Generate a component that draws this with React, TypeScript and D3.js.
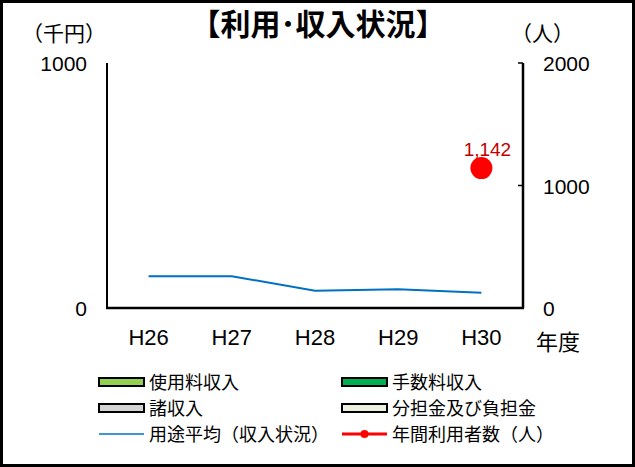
import React from "react";
import * as d3 from "d3";

const categories = ["H26", "H27", "H28", "H29", "H30"];
const averageIncome = [130, 130, 70, 77, 62]; // 用途平均（収入状況） 千円
const annualUsers: (number | null)[] = [null, null, null, null, 1142]; // 年間利用者数（人）
const leftTicks = [0, 1000];
const rightTicks = [0, 1000, 2000];

const legendItems = [
  { label: "使用料収入", type: "bar", color: "#92d050" },
  { label: "手数料収入", type: "bar", color: "#00b050" },
  { label: "諸収入", type: "bar", color: "#d4d4d4" },
  { label: "分担金及び負担金", type: "bar", color: "#ebf1de" },
  { label: "用途平均（収入状況）", type: "line", color: "#0070c0" },
  { label: "年間利用者数（人）", type: "marker", color: "#ff0000" },
];

const W = 635;
const H = 467;
const FONT = "'Noto Sans CJK JP', 'Liberation Sans', sans-serif";
const NUMFONT = "'Liberation Sans', Arial, sans-serif";

export default function App() {
  const left = 107, right = 523, top = 63, bottom = 308;
  const x = d3.scaleBand<string>().domain(categories).range([left, right]);
  const yL = d3.scaleLinear().domain([0, 1000]).range([bottom, top]);
  const yR = d3.scaleLinear().domain([0, 2000]).range([bottom, top]);
  const cx = (c: string) => (x(c) as number) + x.bandwidth() / 2;

  const line = d3
    .line<number>()
    .x((_, i) => cx(categories[i]))
    .y((d) => yL(d));

  const legendX = [99, 342];
  const legendY = [382, 408, 434];

  return (
    <svg
      width={W}
      height={H}
      style={{ position: "absolute", left: 0, top: 0, background: "#fff" }}
      fontFamily={FONT}
    >
      <rect x={1.5} y={1.5} width={W - 3} height={H - 3} fill="#fff" stroke="#000" strokeWidth={3} />
      <text x={318} y={35} textAnchor="middle" fontSize={30} fontWeight="bold" fill="#000">
        【利用･収入状況】
      </text>
      <text x={22} y={41} fontSize={21} fill="#000">（千円）</text>
      <text x={511} y={41} fontSize={21} fill="#000">（人）</text>

      {/* axes */}
      <line x1={left} x2={left} y1={top} y2={bottom} stroke="#000" strokeWidth={2} />
      <line x1={right} x2={right} y1={top} y2={bottom} stroke="#000" strokeWidth={2.5} />
      <line x1={left - 1} x2={right + 1} y1={bottom} y2={bottom} stroke="#000" strokeWidth={2.5} />
      {rightTicks.map((t) => (
        <g key={"rt" + t}>
          <line x1={right - 5} x2={right} y1={yR(t)} y2={yR(t)} stroke="#000" strokeWidth={1.5} />
          <text x={543} y={yR(t) + 8} fontSize={21} fontFamily={NUMFONT} fill="#000">{t}</text>
        </g>
      ))}
      {leftTicks.map((t) => (
        <text key={"lt" + t} x={87} y={yL(t) + 8} fontSize={21} fontFamily={NUMFONT} textAnchor="end" fill="#000">
          {t}
        </text>
      ))}
      {categories.map((c) => (
        <text key={c} x={cx(c)} y={345} fontSize={22} fontFamily={NUMFONT} textAnchor="middle" fill="#000">
          {c}
        </text>
      ))}
      <text x={536} y={350} fontSize={22} fill="#000">年度</text>

      {/* blue line */}
      <path d={line(averageIncome) || ""} fill="none" stroke="#0070c0" strokeWidth={2} />

      {/* red users markers */}
      {annualUsers.map((v, i) =>
        v == null ? null : (
          <g key={"u" + i}>
            <circle cx={cx(categories[i])} cy={yR(v)} r={11} fill="#ff0000" />
            <text x={cx(categories[i]) + 6} y={yR(v) - 12} fontSize={19} fontFamily={NUMFONT} textAnchor="middle" fill="#c00000">
              {d3.format(",")(v)}
            </text>
          </g>
        )
      )}

      {/* legend */}
      {legendItems.map((item, i) => {
        const lx = legendX[i % 2];
        const ly = legendY[Math.floor(i / 2)];
        return (
          <g key={item.label}>
            {item.type === "bar" && (
              <rect x={lx} y={ly - 4} width={45} height={8} fill={item.color} stroke="#000" strokeWidth={2} />
            )}
            {item.type === "line" && (
              <line x1={lx} x2={lx + 45} y1={ly} y2={ly} stroke={item.color} strokeWidth={1.5} />
            )}
            {item.type === "marker" && (
              <g>
                <line x1={lx} x2={lx + 45} y1={ly} y2={ly} stroke={item.color} strokeWidth={3} />
                <circle cx={lx + 22.5} cy={ly} r={4} fill={item.color} />
              </g>
            )}
            <text x={lx + 50} y={ly + 6.5} fontSize={18} fill="#000">
              {item.label}
            </text>
          </g>
        );
      })}
    </svg>
  );
}
